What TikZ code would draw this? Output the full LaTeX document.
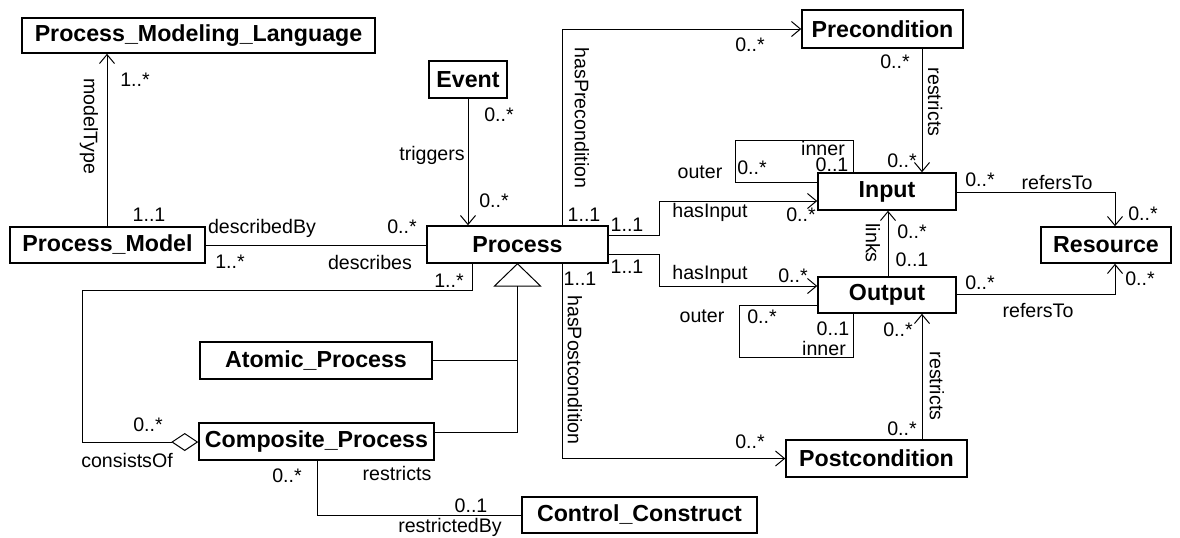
\documentclass[tikz,border=0pt]{standalone}
\usepackage{fontspec}
\setmainfont{Liberation Sans}
\usetikzlibrary{arrows.meta,calc}
\begin{document}
\begin{tikzpicture}[x=0.5pt,y=-0.5pt,
  cls/.style={draw, line width=0.75pt, font=\bfseries\fontsize{11.6}{13}\selectfont, inner sep=0pt},
  lab/.style={font=\fontsize{9.8}{11}\selectfont, inner sep=0pt},
  conn/.style={line width=0.5pt},
  arr/.style={conn, -{Straight Barb[length=4.5pt,width=7.5pt]}},
  agg/.style={conn, -{Diamond[open,length=13.5pt,width=9pt,line width=0.5pt]}}]
\useasboundingbox (0,0) rectangle (1180,537);

% classes
\node[cls, minimum width=176.5pt, minimum height=17.5pt] (pml) at (198.5,35.5) {Process\_Modeling\_Language};
\node[cls, minimum width=97.5pt, minimum height=18pt] (pm) at (107.5,245) {Process\_Model};
\node[cls, minimum width=39pt, minimum height=18.5pt] (event) at (468,79.5) {Event};
\node[cls, minimum width=90.5pt, minimum height=18.5pt] (process) at (517.5,244.5) {Process};
\node[cls, minimum width=80.5pt, minimum height=19pt] (pre) at (882.5,29) {Precondition};
\node[cls, minimum width=69pt, minimum height=18.5pt] (input) at (887,191.5) {Input};
\node[cls, minimum width=65pt, minimum height=18pt] (res) at (1106,245) {Resource};
\node[cls, minimum width=69pt, minimum height=18pt] (output) at (887,295) {Output};
\node[cls, minimum width=90.5pt, minimum height=18.5pt] (post) at (876.5,458.5) {Postcondition};
\node[cls, minimum width=116pt, minimum height=18.5pt] (atomic) at (316,360.5) {Atomic\_Process};
\node[cls, minimum width=117.5pt, minimum height=18.5pt] (comp) at (316.5,441.5) {Composite\_Process};
\node[cls, minimum width=117.5pt, minimum height=18pt] (cc) at (639.5,515) {Control\_Construct};

% bend coordinates
\coordinate (mt) at (107,0);
\coordinate (hp) at (562,29);
\coordinate (hi1) at (659,235);
\coordinate (hi1b) at (659,201);
\coordinate (hi2) at (659,254);
\coordinate (hi2b) at (659,286);
\coordinate (hpc) at (562,458.5);
\coordinate (gb) at (517.5,286);
\coordinate (gbl) at (494.5,286);
\coordinate (gbr) at (540.5,286);
\coordinate (gj) at (517.5,432);
\coordinate (co1) at (472,290);
\coordinate (co2) at (82,290);
\coordinate (co3) at (82,442);
\coordinate (rb) at (317,515);
\coordinate (pr) at (922,0);
\coordinate (rf1) at (1115,192);
\coordinate (rf2) at (1115,294);
\coordinate (lk) at (888,0);
\coordinate (il1) at (735,182);
\coordinate (il2) at (735,140);
\coordinate (il3) at (853,140);
\coordinate (ol1) at (739,305);
\coordinate (ol2) at (739,357);
\coordinate (ol3) at (853,357);

% connectors
\draw[arr] (pm.north -| mt) -- (pml.south -| mt);
\draw[conn] (pm.east) -- (process.west |- pm.east);
\draw[arr] (event.south) -- (process.north -| event.south);
\draw[arr] (process.north -| hp) -- (hp) -- (pre.west |- hp);
\draw[arr] (process.east |- hi1) -- (hi1) -- (hi1b) -- (input.west |- hi1b);
\draw[arr] (process.east |- hi2) -- (hi2) -- (hi2b) -- (output.west |- hi2b);
\draw[arr] (process.south -| hpc) -- (hpc) -- (post.west |- hpc);
\draw[conn, line join=miter] (process.south) -- (gbl) -- (gbr) -- cycle;
\draw[conn] (gb) -- (gj) -- (comp.east |- gj);
\draw[conn] (atomic.east) -- (gb |- atomic.east);
\draw[agg] (process.south -| co1) -- (co1) -- (co2) -- (co3) -- (comp.west |- co3);
\draw[conn] (comp.south -| rb) -- (rb) -- (cc.west |- rb);
\draw[arr] (pre.south -| pr) -- (input.north -| pr);
\draw[arr] (input.east |- rf1) -- (rf1) -- (res.north -| rf1);
\draw[arr] (output.east |- rf2) -- (rf2) -- (res.south -| rf2);
\draw[arr] (output.north -| lk) -- (input.south -| lk);
\draw[conn] (input.west |- il1) -- (il1) -- (il2) -- (il3) -- (input.north -| il3);
\draw[conn] (output.west |- ol1) -- (ol1) -- (ol2) -- (ol3) -- (output.south -| ol3);
\draw[arr] (post.north -| pr) -- (output.south -| pr);

% labels
\node[lab] (l1) at (135,80) {1..*};
\node[lab, rotate=-90] (l2) at (89,126) {modelType};
\node[lab] (l3) at (149,215) {1..1};
\node[lab] (l4) at (262,228) {describedBy};
\node[lab] (l5) at (402,227) {0..*};
\node[lab] (l6) at (230,262) {1..*};
\node[lab] (l7) at (370,262) {describes};
\node[lab] (l8) at (499,115) {0..*};
\node[lab] (l9) at (432,155) {triggers};
\node[lab] (l10) at (494,201) {0..*};
\node[lab, rotate=-90] (l11) at (582,118) {hasPrecondition};
\node[lab] (l12) at (750,45) {0..*};
\node[lab] (l13) at (584,215) {1..1};
\node[lab] (l14) at (627,225) {1..1};
\node[lab] (l15) at (710,212) {hasInput};
\node[lab] (l16) at (801,215) {0..*};
\node[lab] (l17) at (627,267) {1..1};
\node[lab] (l18) at (710,274) {hasInput};
\node[lab] (l19) at (793,276) {0..*};
\node[lab] (l20) at (580,279) {1..1};
\node[lab, rotate=-90] (l21) at (575,370) {hasPostcondition};
\node[lab] (l22) at (750,442) {0..*};
\node[lab] (l23) at (449,281) {1..*};
\node[lab] (l24) at (148,425) {0..*};
\node[lab] (l25) at (127,460) {consistsOf};
\node[lab] (l26) at (287,476) {0..*};
\node[lab] (l27) at (397,473) {restricts};
\node[lab] (l28) at (471,506) {0..1};
\node[lab] (l29) at (450,527) {restrictedBy};
\node[lab] (l30) at (895,62) {0..*};
\node[lab, rotate=-90] (l31) at (935,102) {restricts};
\node[lab] (l32) at (902,161) {0..*};
\node[lab] (l33) at (980,180) {0..*};
\node[lab] (l34) at (1057,182) {refersTo};
\node[lab] (l35) at (1143,214) {0..*};
\node[lab] (l36) at (980,283) {0..*};
\node[lab] (l37) at (1038,310) {refersTo};
\node[lab] (l38) at (1140,279) {0..*};
\node[lab, rotate=-90] (l39) at (873,243) {links};
\node[lab] (l40) at (912,232) {0..*};
\node[lab] (l41) at (912,260) {0..1};
\node[lab] (l42) at (700,172) {outer};
\node[lab] (l43) at (752,168) {0..*};
\node[lab] (l44) at (823,148.5) {inner};
\node[lab] (l45) at (832,165) {0..1};
\node[lab] (l46) at (702,316) {outer};
\node[lab] (l47) at (762,317) {0..*};
\node[lab] (l48) at (833,329) {0..1};
\node[lab] (l49) at (824,348.5) {inner};
\node[lab] (l50) at (898,330) {0..*};
\node[lab, rotate=-90] (l51) at (937,386) {restricts};
\node[lab] (l52) at (902,429) {0..*};
\end{tikzpicture}
\end{document}
